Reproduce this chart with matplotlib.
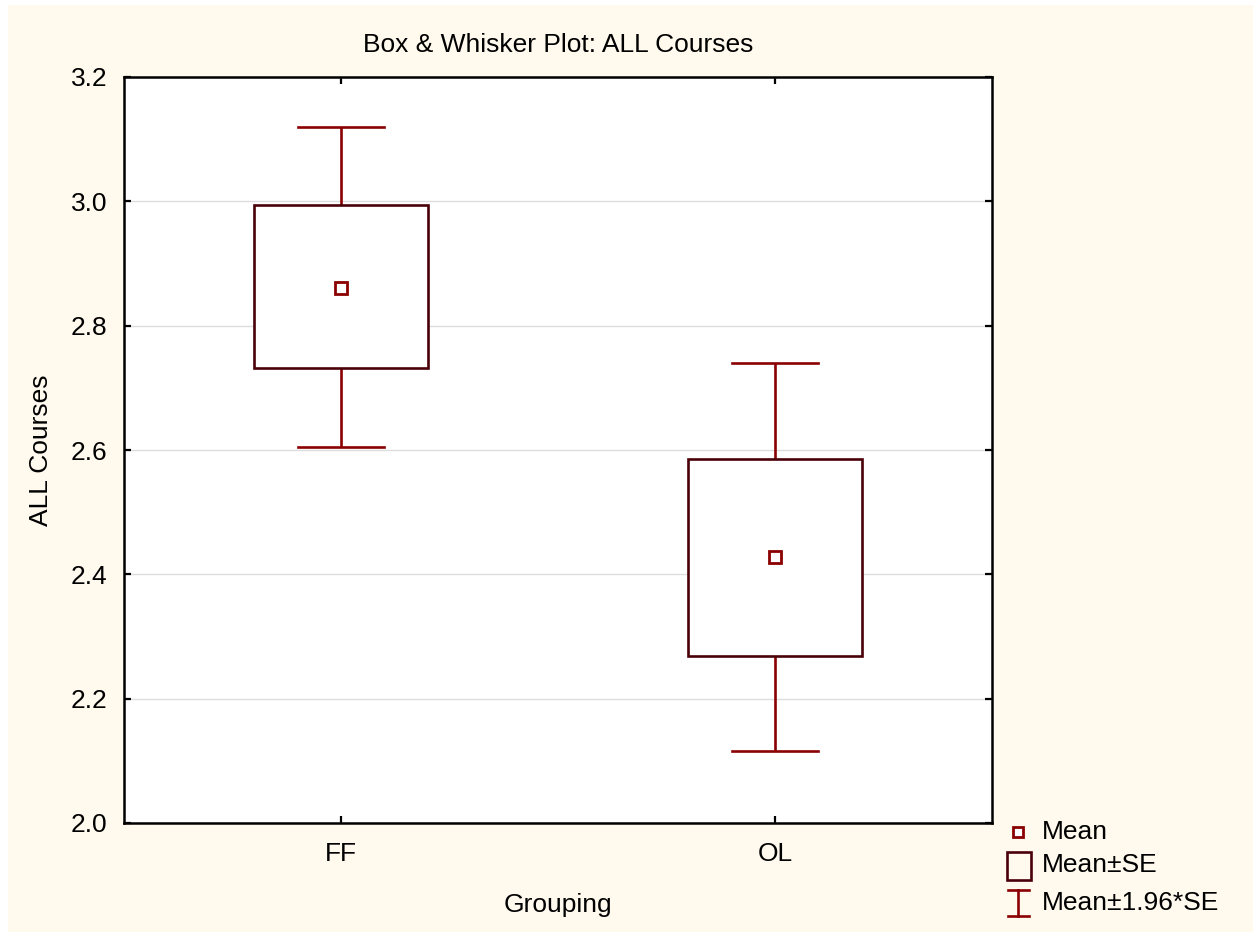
import matplotlib
matplotlib.use("Agg")
import matplotlib.pyplot as plt
from matplotlib.patches import Rectangle
from matplotlib.lines import Line2D

plt.rcParams['font.family'] = ['Liberation Sans', 'DejaVu Sans']

groups = ["FF", "OL"]
means = [2.861, 2.428]
se_low = [2.732, 2.269]
se_high = [2.994, 2.586]
ci_low = [2.605, 2.116]
ci_high = [3.120, 2.740]
yticks = [2.0, 2.2, 2.4, 2.6, 2.8, 3.0, 3.2]

W, H = 1253, 932
FS = 19
fig = plt.figure(figsize=(W / 100, H / 100), dpi=100, facecolor='white')
cream = '#FFF9EE'
fig.patches.append(Rectangle((8 / W, 0), 1 - 8 / W, 1 - 5 / H, transform=fig.transFigure,
                             facecolor=cream, edgecolor='none', zorder=-10))

ax = fig.add_axes([124 / W, 1 - 823 / H, (992 - 124) / W, (823 - 77) / H])
ax.set_facecolor('white')

whisk_c = '#8B0000'
box_c = '#4A0008'
LW = 1.9
bw = 0.4
cw = 0.2
for i, g in enumerate(groups):
    ax.plot([i, i], [ci_low[i], se_low[i]], color=whisk_c, lw=LW, zorder=3, solid_capstyle='butt')
    ax.plot([i, i], [se_high[i], ci_high[i]], color=whisk_c, lw=LW, zorder=3, solid_capstyle='butt')
    ax.plot([i - cw / 2, i + cw / 2], [ci_low[i]] * 2, color=whisk_c, lw=LW, zorder=3)
    ax.plot([i - cw / 2, i + cw / 2], [ci_high[i]] * 2, color=whisk_c, lw=LW, zorder=3)
    ax.add_patch(Rectangle((i - bw / 2, se_low[i]), bw, se_high[i] - se_low[i],
                           facecolor='white', edgecolor=box_c, lw=LW, zorder=4))
    ax.plot([i], [means[i]], marker='s', ms=8, mfc='white', mec=whisk_c, mew=2.0,
            linestyle='none', zorder=5)

ax.set_xlim(-0.5, 1.5)
ax.set_ylim(2.0, 3.2)
ax.set_xticks(range(len(groups)))
ax.set_xticklabels(groups)
ax.set_yticks(yticks)
ax.set_yticklabels([f"{v:.1f}" for v in yticks])
ax.yaxis.grid(True, color='#DDDDDD', lw=1)
ax.set_axisbelow(True)
ax.tick_params(axis='both', direction='in', length=5, width=1.6, labelsize=FS,
               top=True, right=True, colors='black')
ax.tick_params(axis='y', pad=12)
ax.tick_params(axis='x', pad=14)
for s in ax.spines.values():
    s.set_linewidth(1.8)
    s.set_color('black')

ax.set_title("Box & Whisker Plot: ALL Courses", fontsize=FS, pad=18)
ax.set_xlabel("Grouping", fontsize=FS, labelpad=19)
ax.set_ylabel("ALL Courses", fontsize=FS, labelpad=13)

# legend drawn in figure pixel coordinates
def fx(x):
    return x / W

def fy(y):
    return 1 - y / H

fig.add_artist(Line2D([fx(1018)], [fy(832)], marker='s', ms=7.5, mfc='white', mec=whisk_c, mew=2.0,
                      linestyle='none', transform=fig.transFigure))
fig.text(fx(1042), fy(832), "Mean", fontsize=FS, va='center', ha='left')
fig.add_artist(Rectangle((fx(1007), fy(880)), 24 / W, 28 / H, transform=fig.transFigure,
                         facecolor='none', edgecolor=box_c, lw=LW))
fig.text(fx(1042), fy(865), "Mean±SE", fontsize=FS, va='center', ha='left')
fig.add_artist(Line2D([fx(1018), fx(1018)], [fy(890), fy(916)], color=whisk_c, lw=LW,
                      transform=fig.transFigure))
fig.add_artist(Line2D([fx(1008), fx(1029)], [fy(890), fy(890)], color=whisk_c, lw=LW,
                      transform=fig.transFigure))
fig.add_artist(Line2D([fx(1008), fx(1029)], [fy(916), fy(916)], color=whisk_c, lw=LW,
                      transform=fig.transFigure))
fig.text(fx(1042), fy(903), "Mean±1.96*SE", fontsize=FS, va='center', ha='left')

fig.savefig("out.png", dpi=100, facecolor='white')
